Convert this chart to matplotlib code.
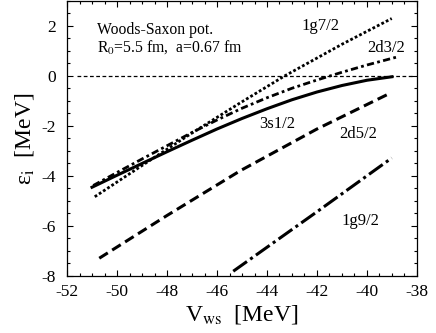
import matplotlib
matplotlib.use('Agg')
import matplotlib.pyplot as plt
from matplotlib.ticker import MultipleLocator

plt.rcParams['font.family'] = ['Liberation Serif', 'DejaVu Serif']
plt.rcParams['mathtext.fontset'] = 'stix'
plt.rcParams['axes.unicode_minus'] = False

# single-particle energies vs. Woods-Saxon depth
v_3s12 = [-51.0, -50.0, -49.0, -48.0, -47.0, -46.0, -45.0, -44.0, -43.0, -42.0, -41.0, -40.0, -39.0]
e_3s12 = [-4.45, -3.97, -3.50, -3.03, -2.57, -2.12, -1.70, -1.31, -0.95, -0.64, -0.38, -0.17, -0.03]

v_1g72 = [-50.89, -48.8, -47.0, -45.08, -43.3, -41.0, -39.01]
e_1g72 = [-4.83, -3.45, -2.28, -1.08, 0.0, 1.27, 2.30]

v_2d32 = [-50.95, -50.0, -49.0, -48.0, -47.0, -46.0, -45.0, -44.0, -43.0, -42.0, -41.0, -40.0, -38.8]
e_2d32 = [-4.38, -3.86, -3.32, -2.79, -2.26, -1.76, -1.29, -0.87, -0.49, -0.16, 0.15, 0.44, 0.76]

v_2d52 = [-50.71, -48.0, -45.07, -42.0, -39.12]
e_2d52 = [-7.29, -5.58, -3.79, -2.12, -0.71]

v_1g92 = [-45.35, -42.0, -39.01]
e_1g92 = [-7.81, -5.43, -3.28]

fig = plt.figure(figsize=(4.36, 3.33), dpi=100)
ax = fig.add_axes([0.1537, 0.1712, 0.8027, 0.8258])

# E = 0 threshold
ax.plot([-51.6, -38.15], [0, 0], color='black', lw=0.9, linestyle=(0, (3, 2)))

ax.plot(v_3s12, e_3s12, color='black', lw=2.2, linestyle='-')
ax.plot(v_1g72, e_1g72, color='black', lw=2.0, linestyle=(0, (1.0, 0.8)))
ax.plot(v_2d32, e_2d32, color='black', lw=2.0, linestyle=(0, (2.6, 1.2, 1.0, 1.2)))
ax.plot(v_2d52, e_2d52, color='black', lw=2.2, linestyle=(0, (3.3, 1.7)))
ax.plot(v_1g92, e_1g92, color='black', lw=2.2, linestyle=(0, (5.5, 1.3, 1.0, 1.3)))

# level labels
ax.text(-42.61, 1.82, '1g7/2', fontsize=12)
ax.text(-39.97, 0.97, '2d3/2', fontsize=12)
ax.text(-44.31, -2.08, '3s1/2', fontsize=12)
ax.text(-41.11, -2.48, '2d5/2', fontsize=12)
ax.text(-41.01, -5.98, '1g9/2', fontsize=12)

ax.text(-50.79, 1.66, 'Woods-Saxon pot.', fontsize=11.3)
ax.text(-50.79, 0.99, 'R$_0$=5.5 fm,  a=0.67 fm', fontsize=11.3)

ax.set_xlim(-52, -38)
ax.set_ylim(-8, 3)
ax.xaxis.set_major_locator(MultipleLocator(2))
ax.xaxis.set_minor_locator(MultipleLocator(0.5))
ax.yaxis.set_major_locator(MultipleLocator(2))
ax.yaxis.set_minor_locator(MultipleLocator(0.5))
ax.tick_params(which='both', direction='in', top=True, right=True, width=0.8)
ax.tick_params(which='major', length=4, labelsize=12.5)
ax.tick_params(axis='x', which='major', pad=6)
ax.tick_params(axis='y', which='major', pad=8)
ax.tick_params(which='minor', length=2.2)
for s in ax.spines.values():
    s.set_linewidth(0.9)

ax.set_xlabel(r'V$_{\rm ws}$  [MeV]', fontsize=17, labelpad=2)
ax.set_ylabel(r'ε$_{\rm i}$  [MeV]', fontsize=17, labelpad=4)

fig.savefig('out.png', dpi=100)
